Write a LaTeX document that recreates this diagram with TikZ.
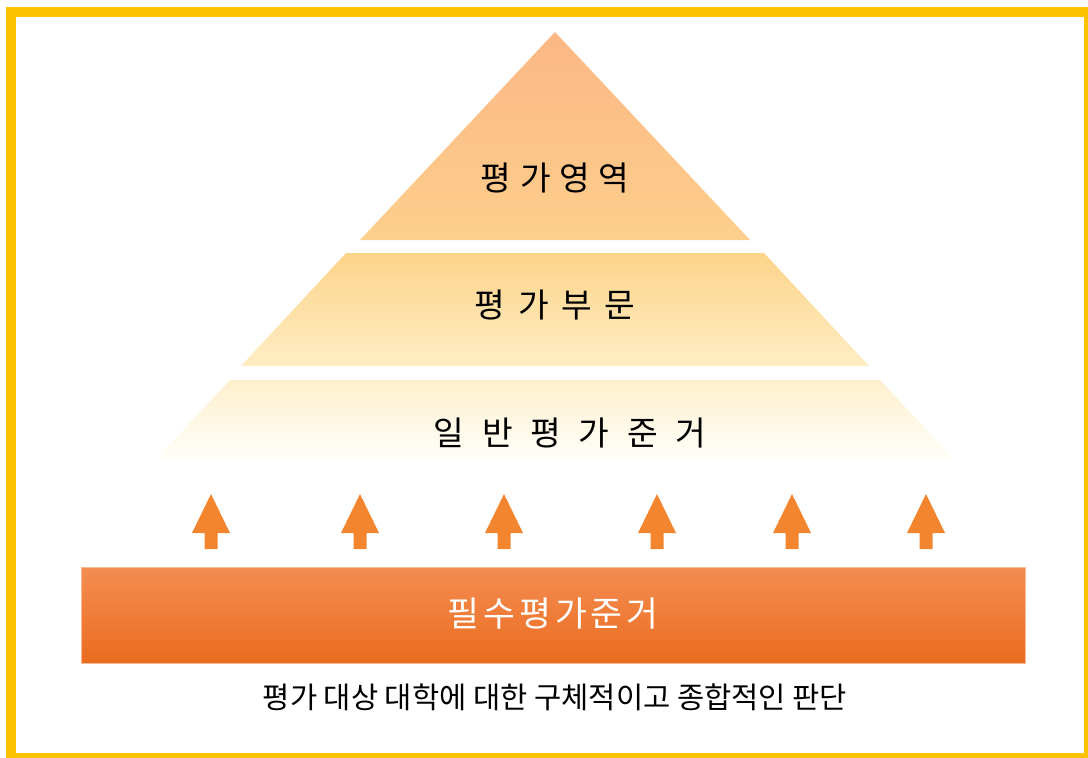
\documentclass[tikz,border=0pt]{standalone}
\usepackage{fontspec}
\newfontfamily\kr{Noto Sans CJK KR}
\definecolor{bordc}{HTML}{FDC300}
\definecolor{taa}{HTML}{FBB784}
\definecolor{tab}{HTML}{FDCF8C}
\definecolor{tba}{HTML}{FDD48A}
\definecolor{tbb}{HTML}{FEEDC4}
\definecolor{tca}{HTML}{FEF0CE}
\definecolor{tcb}{HTML}{FFFEF8}
\definecolor{bara}{HTML}{F48D52}
\definecolor{barm}{HTML}{FA8230}
\definecolor{barb}{HTML}{EA6C1E}
\definecolor{arrc}{HTML}{F3852F}
\begin{document}
\begin{tikzpicture}[x=0.75pt,y=-0.75pt,
  lbl/.style={font=\kr\fontsize{25}{30}\selectfont, text=black, inner sep=0pt},
  barlbl/.style={font=\kr\fontsize{26}{31}\selectfont, text=white, inner sep=0pt},
  note/.style={font=\kr\fontsize{22.2}{26}\selectfont, text=black, inner sep=0pt},
  uparrow/.style={fill=arrc, draw=none}]
\useasboundingbox (0,0) rectangle (1088,757);
\begin{scope}
  \clip (0,0) rectangle (1088,757);
  \draw[bordc, line width=7.5pt] (11,12) rectangle (1089,758);
\end{scope}
% pyramid
\shade[top color=taa, bottom color=tab] (555,32) -- (750,240) -- (360,240) -- cycle;
\shade[top color=tba, bottom color=tbb] (346,253) -- (764,253) -- (869,366) -- (241,366) -- cycle;
\shade[top color=tca, bottom color=tcb] (230,380) -- (880,380) -- (953,458) -- (157,458) -- cycle;
\node[lbl] (lv1) at (555,178) {평\kern6.5pt 가\kern6.5pt 영\kern6.5pt 역};
\node[lbl] (lv2) at (555,305) {평\kern9.5pt 가\kern9.5pt 부\kern9.5pt 문};
\node[lbl] (lv3) at (570,433) {일\kern13.3pt 반\kern13.3pt 평\kern13.3pt 가\kern13.3pt 준\kern13.3pt 거};
% arrows
\foreach \x in {211,360,504,657,792,926}
  \fill[uparrow] (\x,494) -- ++(19,39) -- ++(-12.5,0) -- ++(0,16) -- ++(-13,0) -- ++(0,-16) -- ++(-12.5,0) -- cycle;
% bar
\shade[top color=bara, middle color=barm, bottom color=barb, draw=bara!60!white, line width=0.4pt] (81,567) rectangle (1025,663);
\node[barlbl] (base) at (553,614) {필\kern3pt 수\kern3pt 평\kern3pt 가\kern3pt 준\kern3pt 거};
\node[note] (goal) at (555,697) {평가 대상 대학에 대한 구체적이고 종합적인 판단};
\end{tikzpicture}
\end{document}
